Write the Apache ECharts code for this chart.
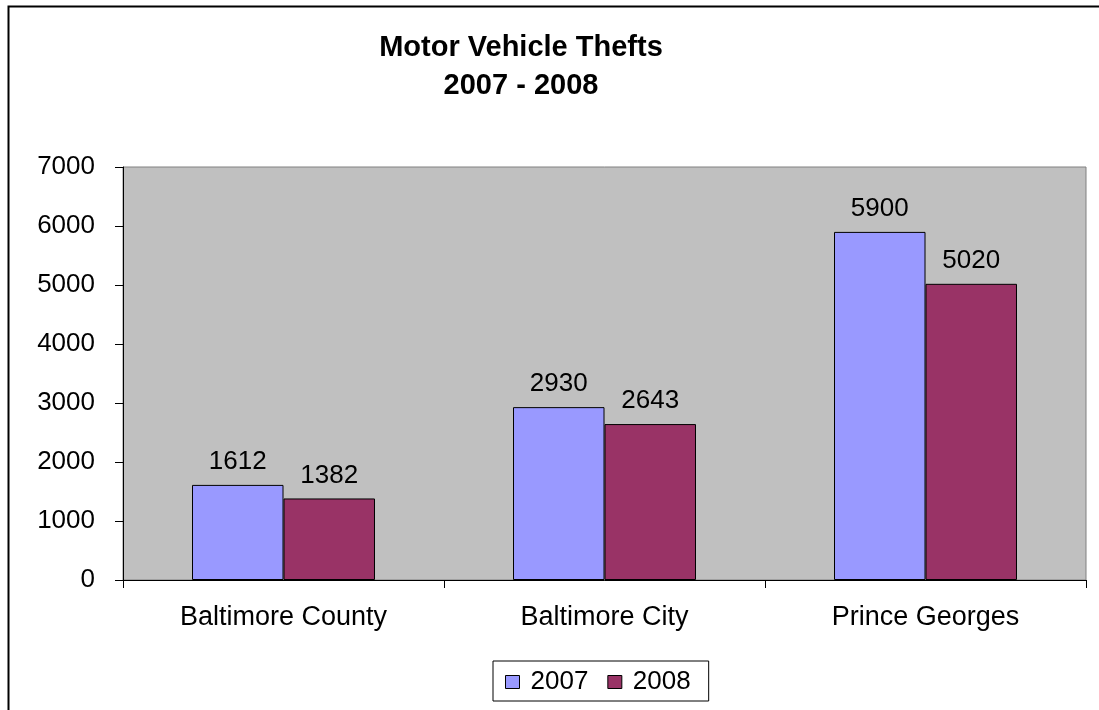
<!DOCTYPE html>
<html>
<head>
<meta charset="utf-8">
<script src="https://cdn.jsdelivr.net/npm/echarts@6/dist/echarts.min.js"></script>
<style>
html,body{margin:0;padding:0;background:#fff;}
#chart{width:1099px;height:710px;}
</style>
</head>
<body>
<div id="chart"></div>
<script>
const categories = ['Baltimore County', 'Baltimore City', 'Prince Georges'];
const seriesNames = ['2007', '2008'];
const values2007 = [1612, 2930, 5900];
const values2008 = [1382, 2643, 5020];
const yTicks = [0, 1000, 2000, 3000, 4000, 5000, 6000, 7000];

const font = 'Liberation Sans, Arial, sans-serif';
const chart = echarts.init(document.getElementById('chart'), null, {renderer: 'canvas'});

const labelStyle = {
  show: true, position: 'top', distance: 10,
  color: '#000', fontFamily: font, fontSize: 26
};

chart.setOption({
  animation: false,
  backgroundColor: '#fff',
  graphic: [
    { type: 'rect', left: 6, top: 4, shape: {width: 1200, height: 800},
      style: {fill: 'none', stroke: '#000', lineWidth: 2}, z: -1 }
  ],
  title: {
    text: 'Motor Vehicle Thefts\n2007 - 2008',
    left: 516, top: 24, textAlign: 'center',
    textStyle: {fontFamily: font, fontSize: 29, fontWeight: 'bold', color: '#000', lineHeight: 38}
  },
  legend: {
    data: seriesNames,
    left: 493, top: 661,
    padding: [8, 18, 6, 12],
    borderColor: '#000', borderWidth: 1,
    itemWidth: 14, itemHeight: 13, itemGap: 19,
    icon: 'rect',
    itemStyle: {borderColor: '#000', borderWidth: 1},
    textStyle: {fontFamily: font, fontSize: 26, color: '#000', padding: [0, 0, 0, 6]}
  },
  grid: {
    left: 123, top: 167, right: 13, bottom: 130,
    show: true, backgroundColor: '#C0C0C0', borderColor: '#808080', borderWidth: 1
  },
  xAxis: {
    type: 'category', data: categories,
    axisLine: {lineStyle: {color: '#000', width: 1}},
    axisTick: {show: true, length: 8, alignWithLabel: false, lineStyle: {color: '#000'}},
    axisLabel: {color: '#000', fontFamily: font, fontSize: 27, margin: 24}
  },
  yAxis: {
    type: 'value', min: yTicks[0], max: yTicks[yTicks.length - 1], interval: 1000,
    axisLine: {show: true, lineStyle: {color: '#000', width: 1}},
    axisTick: {show: true, length: 8, lineStyle: {color: '#000'}},
    splitLine: {show: false},
    axisLabel: {color: '#000', fontFamily: font, fontSize: 26, margin: 28,
      formatter: v => String(v)}
  },
  series: [
    { name: seriesNames[0], type: 'bar', data: values2007, barGap: '0%', barCategoryGap: '43%',
      itemStyle: {color: '#9999FF', borderColor: '#000', borderWidth: 1}, label: labelStyle },
    { name: seriesNames[1], type: 'bar', data: values2008,
      itemStyle: {color: '#993366', borderColor: '#000', borderWidth: 1}, label: labelStyle }
  ]
});
</script>
</body>
</html>
